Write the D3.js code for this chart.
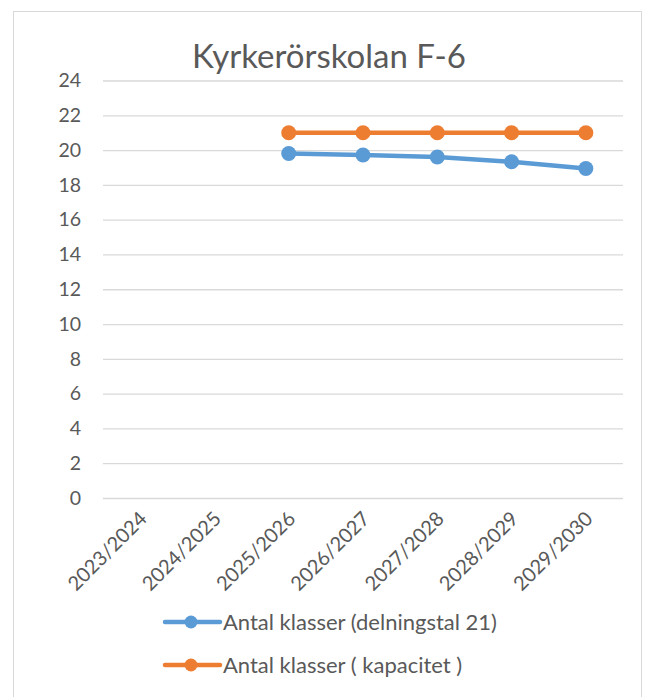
<!DOCTYPE html>
<html><head><meta charset="utf-8">
<script src="https://cdn.jsdelivr.net/npm/d3@7"></script>
<style>body{margin:0;background:#fff;} text{font-family:Lato, "Open Sans", sans-serif;}</style>
</head><body><div id="chart"></div>
<script>
const categories = ["2023/2024","2024/2025","2025/2026","2026/2027","2027/2028","2028/2029","2029/2030"];
const seriesDelning = [null,null,19.8,19.72,19.6,19.33,18.94];
const seriesKapacitet = [null,null,21,21,21,21,21];
const yTicks = [0,2,4,6,8,10,12,14,16,18,20,22,24];
const seriesNames = ["Antal klasser (delningstal 21)","Antal klasser ( kapacitet )"];
const colors = ["#5B9BD5","#ED7D31"];

const W=649,H=697;
const svg=d3.select("#chart").append("svg").attr("width",W).attr("height",H);
svg.append("rect").attr("x",13.5).attr("y",11.5).attr("width",628).attr("height",700)
  .attr("fill","#fff").attr("stroke","#d9d9d9").attr("stroke-width",1);

const x=d3.scaleBand().domain(categories).range([103,623]);
const y=d3.scaleLinear().domain([0,24]).range([498,80.5]);

svg.append("text").attr("x",329).attr("y",68).attr("text-anchor","middle")
  .attr("font-size",33).attr("fill","#595959").text("Kyrkerörskolan F-6");

const yAxis=svg.append("g").attr("transform","translate(103,0)")
  .call(d3.axisLeft(y).tickValues(yTicks).tickSize(-520).tickPadding(22));
yAxis.select(".domain").remove();
yAxis.selectAll(".tick line").attr("stroke","#d9d9d9").attr("stroke-width",1.3);
yAxis.selectAll(".tick text").attr("font-size",19.5).attr("fill","#595959").attr("font-family","Lato");

const xAxis=svg.append("g").attr("transform","translate(0,498)")
  .call(d3.axisBottom(x).tickSize(0).tickPadding(0));
xAxis.select(".domain").remove();
xAxis.selectAll(".tick text").attr("font-size",20).attr("fill","#595959").attr("font-family","Lato")
  .attr("text-anchor","end").attr("dy",0)
  .attr("transform","translate(8,22) rotate(-45)");

const data=[seriesDelning,seriesKapacitet];
const line=d3.line().defined(d=>d.v!=null).x(d=>x(d.c)+x.bandwidth()/2).y(d=>y(d.v));
data.forEach((s,i)=>{
  const pts=s.map((v,j)=>({c:categories[j],v}));
  svg.append("path").datum(pts).attr("d",line).attr("fill","none")
    .attr("stroke",colors[i]).attr("stroke-width",4.5).attr("stroke-linejoin","round");
  svg.selectAll(null).data(pts.filter(d=>d.v!=null)).enter().append("circle")
    .attr("cx",d=>x(d.c)+x.bandwidth()/2).attr("cy",d=>y(d.v)).attr("r",7.5).attr("fill",colors[i]);
});

const legY=[622,665];
seriesNames.forEach((n,i)=>{
  const g=svg.append("g").attr("transform",`translate(0,${legY[i]})`);
  g.append("line").attr("x1",165).attr("x2",220).attr("y1",0).attr("y2",0)
    .attr("stroke",colors[i]).attr("stroke-width",4.5).attr("stroke-linecap","round");
  g.append("circle").attr("cx",191).attr("cy",0).attr("r",6.5).attr("fill",colors[i]);
  g.append("text").attr("x",223).attr("y",7.5).attr("font-size",22).attr("fill","#595959").text(n);
});
</script></body></html>
